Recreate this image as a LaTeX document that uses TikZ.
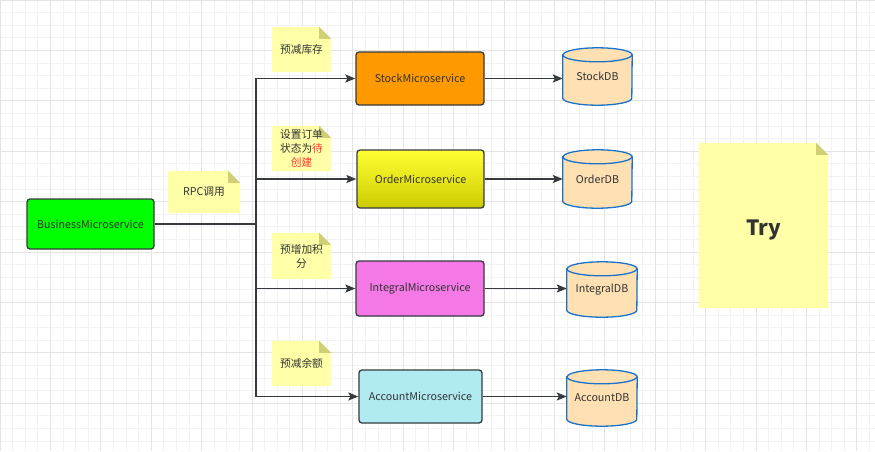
\documentclass[tikz,border=0pt]{standalone}
\usepackage{fontspec}
\setmainfont{Noto Sans CJK SC}
\usetikzlibrary{arrows.meta,calc}
\definecolor{gridminor}{HTML}{F2F2F2}
\definecolor{gridmajor}{HTML}{E4E4E4}
\definecolor{boxline}{HTML}{36393D}
\definecolor{txt}{HTML}{333333}
\definecolor{notefill}{HTML}{FFFFA8}
\definecolor{foldfill}{HTML}{CFCF78}
\definecolor{dbfill}{HTML}{FFE0B2}
\definecolor{dbline}{HTML}{1C72C8}
\definecolor{cgreen}{HTML}{00FF00}
\definecolor{corange}{HTML}{FF9900}
\definecolor{cyeltop}{HTML}{FFFF33}
\definecolor{cyelbot}{HTML}{CCCC00}
\definecolor{cpink}{HTML}{F478E6}
\definecolor{ccyan}{HTML}{B0EBF2}
\definecolor{redtxt}{HTML}{FF3333}
\pgfdeclarelayer{gridlayer}
\pgfdeclarelayer{notelayer}
\pgfsetlayers{gridlayer,notelayer,main}
\tikzset{
  svc/.style={rectangle, rounded corners=3, draw=boxline, line width=1.3pt, text=txt,
    font=\fontsize{10.7}{12}\selectfont, inner sep=0pt},
  notebox/.style={rectangle, inner sep=0pt, text=txt, align=center,
    font=\fontsize{10.7}{14}\selectfont},
  dbnode/.style={rectangle, inner sep=0pt, text=txt, font=\fontsize{10.7}{12}\selectfont},
  dbshape/.style={draw=dbline, fill=dbfill, line width=1.3pt},
  link/.style={draw=boxline, line width=1.5pt, -{Stealth[length=10pt,width=8pt,inset=2pt]}},
  trunkline/.style={draw=boxline, line width=2.3pt},
  gminor/.style={gridminor, line width=0.8pt},
  gmajor/.style={gridmajor, line width=0.8pt},
}
\begin{document}
\begin{tikzpicture}[x=1pt,y=-1pt]
\useasboundingbox (0,0) rectangle (875,451);
\begin{pgfonlayer}{gridlayer}
  \fill[white] (0,0) rectangle (875,451);
  \foreach \i in {0,...,70} {\draw[gminor] (\i*12.6,0) -- (\i*12.6,451);}
  \foreach \i in {0,...,36} {\draw[gminor] (0,\i*12.6) -- (875,\i*12.6);}
  \foreach \i in {0,...,17} {\draw[gmajor] (\i*50.4,0) -- (\i*50.4,451);}
  \foreach \i in {0,...,8} {\draw[gmajor] (0,\i*50.4) -- (875,\i*50.4);}
\end{pgfonlayer}

% services
\node[svc, fill=cgreen, minimum width=127, minimum height=50] (biz) at (90.5,224) {BusinessMicroservice};
\node[svc, fill=corange, minimum width=128, minimum height=53] (stock) at (420,78.5) {StockMicroservice};
\node[svc, top color=cyeltop, bottom color=cyelbot, minimum width=127, minimum height=58] (order) at (420.5,179) {OrderMicroservice};
\node[svc, fill=cpink, minimum width=128, minimum height=55] (integral) at (420,288.5) {IntegralMicroservice};
\node[svc, fill=ccyan, minimum width=123, minimum height=53] (account) at (420.5,396.5) {AccountMicroservice};

% databases
\node[dbnode, minimum width=69, minimum height=57] (sdb) at (597.5,76.5) {StockDB};
\node[dbnode, minimum width=69, minimum height=58] (odb) at (597.5,179) {OrderDB};
\node[dbnode, minimum width=70, minimum height=55] (idb) at (602,289.5) {IntegralDB};
\node[dbnode, minimum width=70, minimum height=56] (adb) at (602,398) {AccountDB};
\begin{pgfonlayer}{notelayer}
\foreach \nm/\rr in {sdb/34.5,odb/34.5,idb/35,adb/35} {
  \draw[dbshape] ($(\nm.north west)+(0,7)$) -- ($(\nm.south west)+(0,-7)$)
    arc[start angle=180, end angle=0, x radius=\rr, y radius=7]
    -- ($(\nm.north east)+(0,7)$)
    arc[start angle=360, end angle=180, x radius=\rr, y radius=7] -- cycle;
  \draw[dbshape, fill=none] ($(\nm.north west)+(0,7)$)
    arc[start angle=180, end angle=0, x radius=\rr, y radius=7];
}
\end{pgfonlayer}

% notes
\node[notebox, minimum width=72, minimum height=42] (rpc) at (204,192) {RPC调用};
\node[notebox, minimum width=59, minimum height=45] (n1) at (301.5,49.5) {预减库存};
\node[notebox, minimum width=59, minimum height=45] (n2) at (301.5,148.5) {设置订单\\状态为\textcolor{redtxt}{待}\\\textcolor{redtxt}{创建}};
\node[notebox, minimum width=59, minimum height=46] (n3) at (301.5,256) {预增加积\\分};
\node[notebox, minimum width=59, minimum height=45] (n4) at (301.5,363.5) {预减余额};
\node[notebox, minimum width=129, minimum height=165,
  label={[text=txt, font=\fontsize{21}{24}\selectfont\bfseries, yshift=-4pt]center:Try}] (try) at (763.5,225.5) {};
\begin{pgfonlayer}{notelayer}
\foreach \nm in {rpc,n1,n2,n3,n4,try} {
  \fill[notefill] (\nm.north west) -- ($(\nm.north east)+(-12,0)$) -- ($(\nm.north east)+(0,12)$)
    -- (\nm.south east) -- (\nm.south west) -- cycle;
  \fill[foldfill] ($(\nm.north east)+(-12,0)$) -- ($(\nm.north east)+(0,12)$)
    -- ($(\nm.north east)+(-12,12)$) -- cycle;
}
\end{pgfonlayer}

% connectors
\coordinate (trunk) at (256,224);
\draw[trunkline] (biz.east) -- (trunk);
\draw[link] (trunk) |- (stock.west);
\draw[link] (trunk) |- (order.west);
\draw[link] (trunk) |- (integral.west);
\draw[link] (trunk) |- (account.west);
\draw[link] (stock.east) -- (stock.east -| sdb.west);
\draw[link] (order.east) -- (order.east -| odb.west);
\draw[link] (integral.east) -- (integral.east -| idb.west);
\draw[link] (account.east) -- (account.east -| adb.west);
\end{tikzpicture}
\end{document}
